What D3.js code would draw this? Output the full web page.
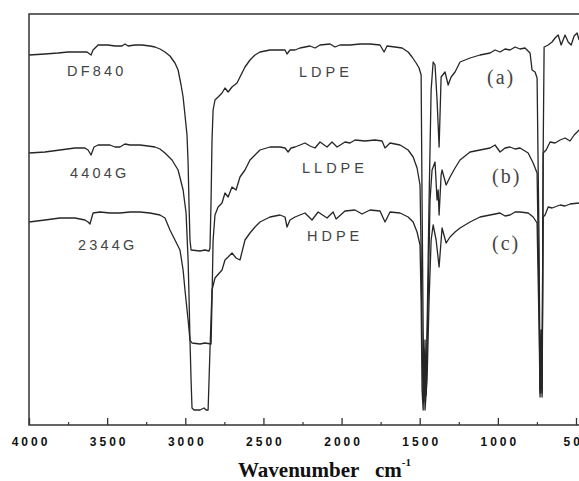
<!DOCTYPE html>
<html>
<head>
<meta charset="utf-8">
<script src="https://cdn.jsdelivr.net/npm/d3@7"></script>
<style>
  html, body { margin: 0; padding: 0; background: #fff; }
  svg { display: block; }
</style>
</head>
<body>
<svg id="chart" width="579" height="481"></svg>
<script>
// FTIR spectra of three polyethylene grades, [wavenumber cm-1, transmittance (a.u., offset)]
const ldpeSpectrum = [
  [4000,92.5],[3898,92.75],[3814,93],[3750,93.25],[3686,93.25],[3629,93.25],[3603,92.5],[3590,93.75],
  [3558,95],[3494,95],[3450,94.75],[3405,94.75],[3386,95.25],[3366,94.75],[3322,95],[3277,95],
  [3226,94.75],[3194,94.5],[3162,94],[3130,93.25],[3098,92.25],[3066,90.5],[3046,88.75],[3027,85],
  [3014,82],[3002,77.5],[2989,72.5],[2982,65.5],[2976,55],[2970,46.25],[2963,43.75],[2906,43.5],
  [2874,43.75],[2848,43.5],[2842,44.25],[2835,56.25],[2829,71.25],[2822,78.75],[2810,81.25],[2790,82],
  [2765,83],[2746,84.25],[2726,83.25],[2701,84.5],[2669,85.5],[2650,87],[2618,89.5],[2586,91.25],
  [2554,92.5],[2522,93.25],[2458,93.75],[2394,93.75],[2362,93.75],[2349,92.75],[2330,93.75],[2298,93.75],
  [2266,94.25],[2234,94.5],[2202,94.75],[2170,94.25],[2138,95],[2074,95.25],[2042,94.5],[2010,95],
  [1946,95],[1882,95.25],[1818,95.25],[1754,95],[1728,93.25],[1709,94.75],[1658,94.5],[1613,94.25],
  [1574,93.25],[1549,92],[1523,90.5],[1504,89.25],[1491,87.5],[1485,56.25],[1478,23.75],[1472,7.5],
  [1466,21.25],[1459,7.5],[1453,23.75],[1440,56.25],[1427,83.75],[1414,90.75],[1402,90],[1389,81.25],
  [1376,69.5],[1363,87],[1338,88.25],[1318,85],[1299,87],[1274,88.25],[1242,90.75],[1178,91.75],
  [1114,92.5],[1050,93],[1018,93.75],[986,93.25],[954,94],[922,93.75],[890,94.5],[858,94],
  [826,94.25],[794,93],[781,88.75],[762,88.25],[749,86.75],[736,43.75],[730,8.75],[723,23.75],
  [717,8.75],[710,68.75],[704,94.5],[678,95],[653,95.75],[634,96.75],[614,97.5],[595,95],
  [570,97.5],[550,95.75],[531,95],[512,97.25],[493,98],[480,96.25]
];

const lldpeSpectrum = [
  [4000,68],[3898,68.25],[3802,68.75],[3706,69.25],[3642,69.25],[3622,68.75],[3603,67.5],[3584,69.5],
  [3558,70],[3482,70],[3450,69.5],[3418,69.5],[3386,70.25],[3354,70],[3290,70],[3238,69.75],
  [3194,69.5],[3162,69],[3130,68],[3085,66.25],[3046,63.75],[3014,58.75],[2995,53],[2982,41.25],
  [2976,32],[2970,21.25],[2957,20.5],[2906,20.25],[2874,20.5],[2835,20.25],[2829,31.25],[2822,46.25],
  [2810,52.5],[2790,54.5],[2765,55.5],[2746,58],[2726,57],[2701,59.5],[2675,58.75],[2650,62],
  [2618,63.75],[2586,66.25],[2554,67.5],[2522,68.75],[2458,69.5],[2394,69.5],[2362,69.25],[2342,68.25],
  [2323,69.25],[2298,69.5],[2266,70],[2234,70.5],[2202,69.75],[2170,69.25],[2138,70.75],[2093,69.5],
  [2061,70.75],[2029,69.5],[1978,70.75],[1946,70.5],[1914,71.25],[1850,71],[1786,71.25],[1741,71],
  [1722,69.25],[1690,70.5],[1626,70],[1574,68.75],[1542,67],[1517,64.25],[1498,60],[1491,43.75],
  [1485,21.25],[1478,5.75],[1472,18.75],[1466,5.75],[1459,11.25],[1446,31.25],[1434,56.25],[1421,63.75],
  [1402,65.75],[1389,56.25],[1382,58.75],[1376,52.5],[1363,62.5],[1357,63.75],[1331,60],[1306,62],
  [1274,64.25],[1242,66.25],[1178,68.25],[1114,68.75],[1050,69.25],[1018,70],[986,68.25],[954,69.25],
  [922,69.5],[890,69],[858,69.25],[806,68],[774,65.5],[749,63],[736,31.25],[730,8],
  [723,16.25],[717,8],[710,68],[691,68.75],[666,70.75],[634,70.5],[602,71.25],[570,71.75],
  [538,71],[512,72.5],[480,73.75]
];

const hdpeSpectrum = [
  [4000,50.75],[3898,51.25],[3802,51.75],[3706,51.75],[3642,51.25],[3622,50.75],[3610,50.25],[3590,53],
  [3546,53.25],[3482,53],[3418,53],[3354,53.25],[3290,53.25],[3226,53],[3162,52.5],[3130,51.75],
  [3098,48.75],[3066,46.25],[3034,43.75],[3014,38.75],[3002,33.75],[2982,26.25],[2970,21.25],[2963,11.25],
  [2957,4.25],[2944,3.75],[2906,3.75],[2880,4.25],[2867,3.75],[2854,3.75],[2842,18.75],[2829,33.75],
  [2810,36.75],[2765,38.75],[2746,41.25],[2726,42],[2701,43],[2675,41.75],[2650,41.25],[2618,46.25],
  [2586,48],[2554,49.5],[2522,50.75],[2458,52],[2394,52.5],[2362,52],[2349,49.5],[2330,51.25],
  [2298,52],[2266,52.5],[2234,53],[2189,51.25],[2150,53.25],[2093,51.75],[2054,53.25],[2035,51.5],
  [1978,53.5],[1914,53.75],[1869,52.75],[1818,53.75],[1754,53.5],[1722,50.75],[1690,53.25],[1626,53],
  [1574,52],[1542,50.75],[1517,48.25],[1498,45],[1491,31.25],[1485,8.75],[1478,3.75],[1472,16.25],
  [1466,3.75],[1453,11.25],[1440,31.25],[1427,46.25],[1414,50],[1395,46.25],[1376,39.5],[1357,49.25],
  [1331,45.5],[1306,47],[1274,48.25],[1242,49.25],[1178,50.75],[1114,52],[1050,52.5],[986,53],
  [954,52.25],[922,52.5],[890,53.25],[858,53.25],[806,53],[774,52],[749,50.5],[736,23.75],
  [730,7],[723,13.75],[717,7],[710,52],[698,52.5],[678,54.5],[653,54.25],[602,55],
  [570,54.75],[538,55.25],[480,55.5]
];

const xTicks = [4000, 3500, 3000, 2500, 2000, 1500, 1000, 500];
const xMinorTicks = [3750, 3250, 2750, 2250, 1750, 1250, 750];

const seriesNames = ["DF840", "4404G", "2344G"];
const seriesTypes = ["LDPE", "LLDPE", "HDPE"];
const seriesTags = ["(a)", "(b)", "(c)"];
const spectra = [ldpeSpectrum, lldpeSpectrum, hdpeSpectrum];

const svg = d3.select("#chart");
const frame = { left: 29, top: 14, right: 590, bottom: 425 };

const x = d3.scaleLinear().domain([4000, 500]).range([29, 576]);
const y = d3.scaleLinear().domain([0, 100]).range([425, 25]);

svg.append("defs").append("clipPath").attr("id", "plotClip")
  .append("rect")
  .attr("x", frame.left).attr("y", frame.top)
  .attr("width", frame.right - frame.left).attr("height", frame.bottom - frame.top);

// spectra
const line = d3.line().x(d => x(d[0])).y(d => y(d[1]));
svg.append("g").attr("clip-path", "url(#plotClip)")
  .selectAll("path").data(spectra).join("path")
  .attr("d", line)
  .attr("fill", "none")
  .attr("stroke", "#262626")
  .attr("stroke-width", 1.3)
  .attr("stroke-linejoin", "round");

// frame: left, top and bottom edges
svg.append("path")
  .attr("d", `M${frame.right},${frame.top}H${frame.left}V${frame.bottom}H${frame.right}`)
  .attr("fill", "none").attr("stroke", "#333").attr("stroke-width", 1.5);

// inward major ticks with labels
const xAxis = d3.axisBottom(x).tickValues(xTicks).tickFormat(d3.format("d"))
  .tickSizeInner(-7).tickSizeOuter(0).tickPadding(12);
const gx = svg.append("g").attr("transform", `translate(0,${frame.bottom})`).call(xAxis);
gx.select(".domain").remove();
gx.selectAll(".tick line").attr("stroke", "#333").attr("stroke-width", 1.3);
gx.selectAll(".tick text")
  .attr("fill", "#111")
  .attr("font-family", "'Liberation Sans', Arial, sans-serif")
  .attr("font-weight", "bold")
  .attr("font-size", 12)
  .attr("letter-spacing", 3)
  .attr("dx", 1.5);

// inward minor ticks
const xMinor = d3.axisBottom(x).tickValues(xMinorTicks).tickFormat("")
  .tickSizeInner(-3).tickSizeOuter(0);
const gm = svg.append("g").attr("transform", `translate(0,${frame.bottom})`).call(xMinor);
gm.select(".domain").remove();
gm.selectAll(".tick line").attr("stroke", "#333").attr("stroke-width", 1.2);

// axis title
const title = svg.append("text")
  .attr("x", 238).attr("y", 477)
  .attr("font-family", "'Liberation Serif', 'Times New Roman', serif")
  .attr("font-weight", "bold")
  .attr("font-size", 21)
  .attr("fill", "#111");
title.append("tspan").text("Wavenumber");
title.append("tspan").attr("dx", 16).text("cm");
title.append("tspan").attr("dy", -11).attr("font-size", 11).text("-1");

// sample grade labels (left)
const namePos = [[67, 76], [70, 178], [78, 250]];
svg.append("g").selectAll("text").data(seriesNames).join("text")
  .attr("x", (d, i) => namePos[i][0]).attr("y", (d, i) => namePos[i][1])
  .attr("font-family", "'Liberation Sans', Arial, sans-serif")
  .attr("font-size", 14.5).attr("letter-spacing", 3.2)
  .attr("fill", "#444")
  .text(d => d);

// polymer type labels (middle)
const typePos = [[299, 77], [302, 173], [307, 241]];
svg.append("g").selectAll("text").data(seriesTypes).join("text")
  .attr("x", (d, i) => typePos[i][0]).attr("y", (d, i) => typePos[i][1])
  .attr("font-family", "'Liberation Sans', Arial, sans-serif")
  .attr("font-size", 14.5).attr("letter-spacing", 4)
  .attr("fill", "#444")
  .text(d => d);

// curve tags (right)
const tagPos = [[487, 84], [492, 183], [492, 250]];
svg.append("g").selectAll("text").data(seriesTags).join("text")
  .attr("x", (d, i) => tagPos[i][0]).attr("y", (d, i) => tagPos[i][1])
  .attr("font-family", "'Liberation Serif', 'Times New Roman', serif")
  .attr("font-size", 20).attr("letter-spacing", 2)
  .attr("fill", "#444")
  .text(d => d);
</script>
</body>
</html>
